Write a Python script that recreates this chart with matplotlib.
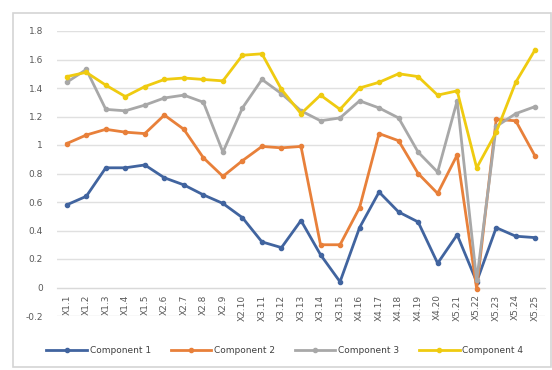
import matplotlib
matplotlib.use('Agg')
import matplotlib.pyplot as plt
from matplotlib.patches import Rectangle

categories = ['X1.1', 'X1.2', 'X1.3', 'X1.4', 'X1.5', 'X2.6', 'X2.7', 'X2.8', 'X2.9', 'X2.10',
              'X3.11', 'X3.12', 'X3.13', 'X3.14', 'X3.15', 'X4.16', 'X4.17', 'X4.18', 'X4.19', 'X4.20',
              'X5.21', 'X5.22', 'X5.23', 'X5.24', 'X5.25']
comp1 = [0.58, 0.64, 0.84, 0.84, 0.86, 0.77, 0.72, 0.65, 0.59, 0.49,
         0.32, 0.28, 0.47, 0.23, 0.04, 0.42, 0.67, 0.53, 0.46, 0.17,
         0.37, 0.04, 0.42, 0.36, 0.35]
comp2 = [1.01, 1.07, 1.11, 1.09, 1.08, 1.21, 1.11, 0.91, 0.78, 0.89,
         0.99, 0.98, 0.99, 0.30, 0.30, 0.56, 1.08, 1.03, 0.80, 0.66,
         0.93, -0.01, 1.18, 1.17, 0.92]
comp3 = [1.44, 1.53, 1.25, 1.24, 1.28, 1.33, 1.35, 1.30, 0.95, 1.26,
         1.46, 1.36, 1.24, 1.17, 1.19, 1.31, 1.26, 1.19, 0.95, 0.81,
         1.31, 0.05, 1.13, 1.22, 1.27]
comp4 = [1.48, 1.51, 1.42, 1.34, 1.41, 1.46, 1.47, 1.46, 1.45, 1.63,
         1.64, 1.39, 1.22, 1.35, 1.25, 1.40, 1.44, 1.50, 1.48, 1.35,
         1.38, 0.84, 1.09, 1.44, 1.67]
names = ['Component 1', 'Component 2', 'Component 3', 'Component 4']
colors = ['#41649f', '#e8803a', '#a8a8a8', '#efcb10']

fig = plt.figure(figsize=(5.52, 3.70), dpi=100)
fig.patches.append(Rectangle((13 / 552, 3 / 370), 1 - 14 / 552, 1 - 16 / 370,
                             transform=fig.transFigure, fill=False,
                             edgecolor='#d4d4d4', linewidth=1.2))
ax = fig.add_axes([57 / 552, 1 - 316 / 370, 488 / 552, 285 / 370])

x = list(range(len(categories)))
for ys, name, c in zip([comp1, comp2, comp3, comp4], names, colors):
    ax.plot(x, ys, color=c, linewidth=2.0, marker='o', markersize=3,
            label=name, zorder=3)

ax.set_xlim(-0.5, len(categories) - 0.5)
ax.set_ylim(-0.2, 1.8)
yt = [-0.2, 0, 0.2, 0.4, 0.6, 0.8, 1, 1.2, 1.4, 1.6, 1.8]
ax.set_yticks(yt)
ax.set_yticklabels(['-0.2', '0', '0.2', '0.4', '0.6', '0.8', '1', '1.2', '1.4', '1.6', '1.8'])
ax.set_xticks(x)
ax.set_xticklabels(categories)
ax.grid(axis='y', color='#e0e0e0', linewidth=1)
ax.set_axisbelow(True)

for s in ['top', 'right', 'left']:
    ax.spines[s].set_visible(False)
ax.spines['bottom'].set_position(('data', 0))
ax.spines['bottom'].set_color('#d9d9d9')
ax.tick_params(axis='both', length=0, labelsize=6.5, colors='#595959')
ax.tick_params(axis='x', pad=5, labelrotation=90)
ax.tick_params(axis='y', pad=10)

ax.legend(loc='center', bbox_to_anchor=(0.467, -0.12), ncol=4,
          frameon=False, fontsize=6.5, labelcolor='#404040',
          handlelength=4.5, handletextpad=0.3, columnspacing=2.2)

plt.savefig('out.png', dpi=100)
